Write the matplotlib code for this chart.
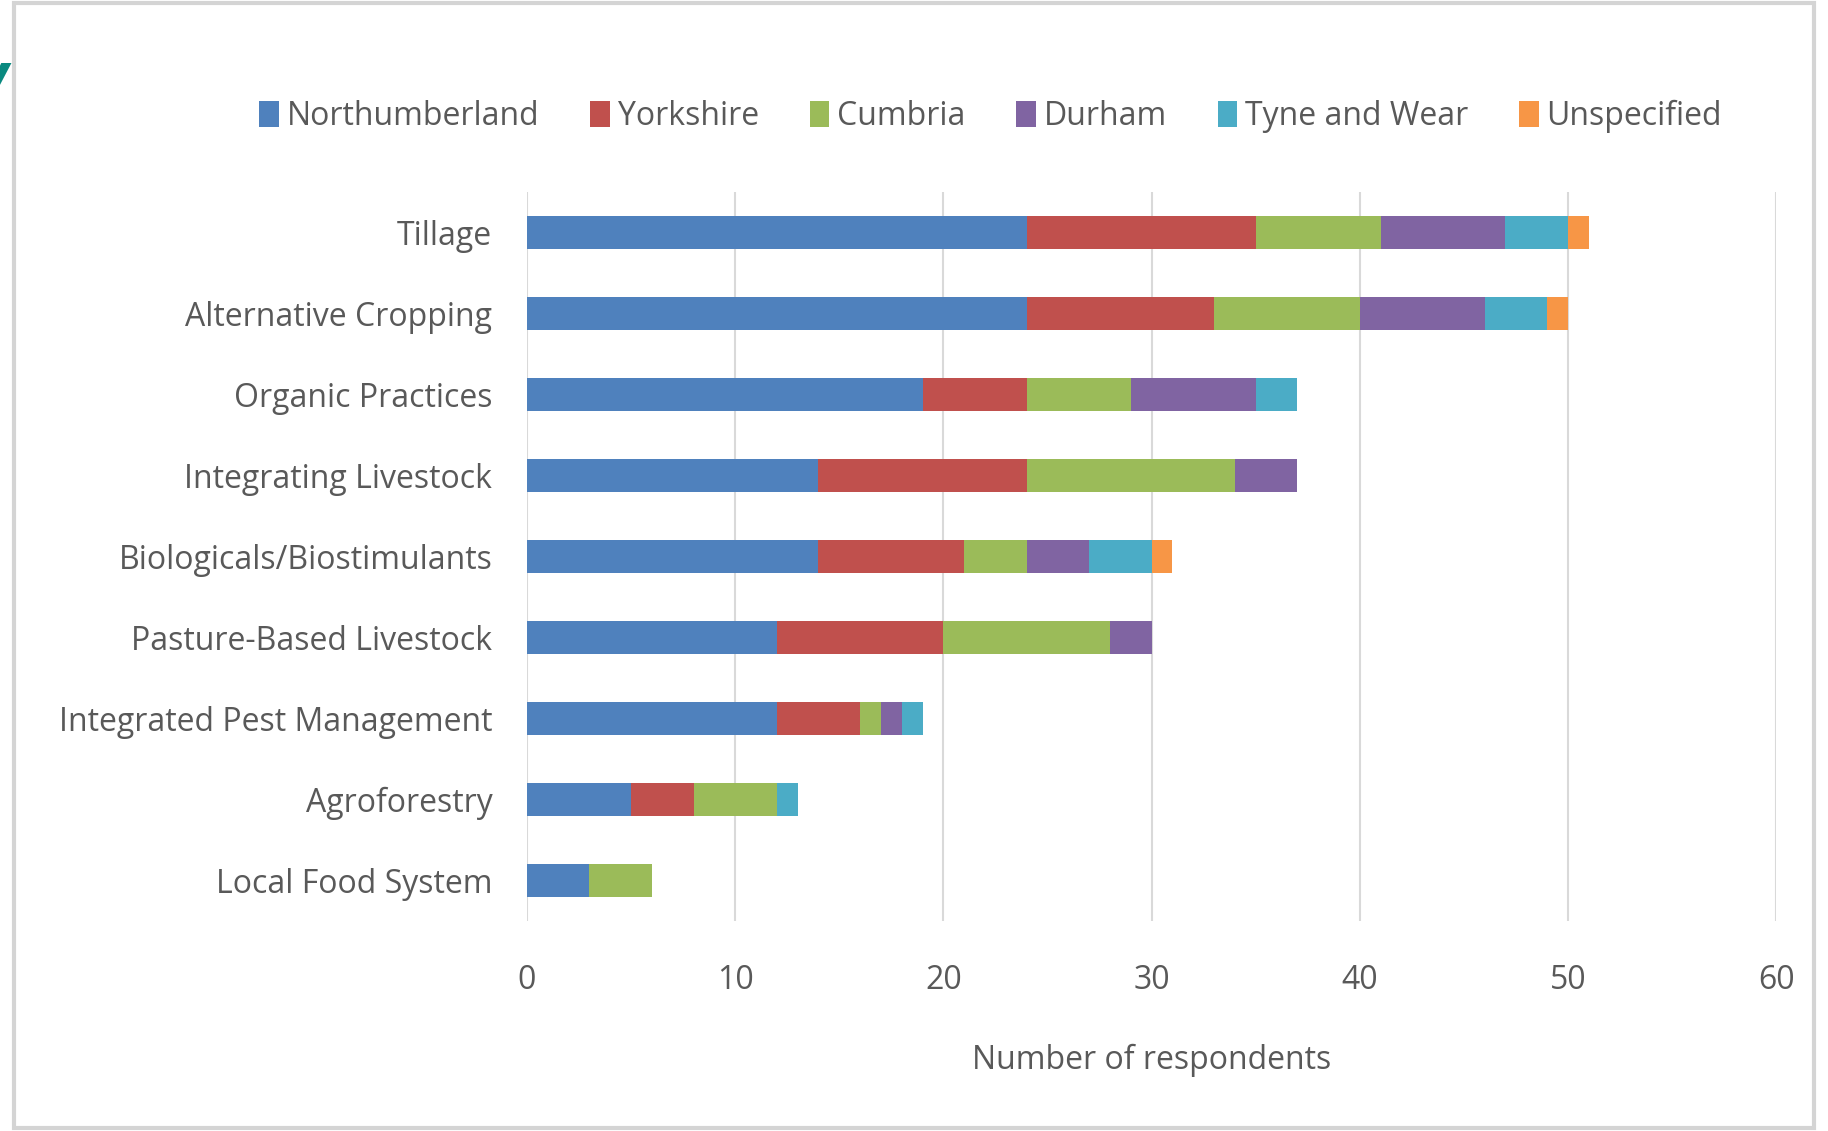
import matplotlib
matplotlib.use("Agg")
import matplotlib.pyplot as plt
from matplotlib.patches import Rectangle
import numpy as np

plt.rcParams['font.family'] = ['Open Sans', 'DejaVu Sans']

practices = ['Tillage', 'Alternative Cropping', 'Organic Practices', 'Integrating Livestock',
             'Biologicals/Biostimulants', 'Pasture-Based Livestock', 'Integrated Pest Management',
             'Agroforestry', 'Local Food System']
regions = ['Northumberland', 'Yorkshire', 'Cumbria', 'Durham', 'Tyne and Wear', 'Unspecified']

northumberland = [24, 24, 19, 14, 14, 12, 12, 5, 3]
yorkshire = [11, 9, 5, 10, 7, 8, 4, 3, 0]
cumbria = [6, 7, 5, 10, 3, 8, 1, 4, 3]
durham = [6, 6, 6, 3, 3, 2, 1, 0, 0]
tyne_and_wear = [3, 3, 2, 0, 3, 0, 1, 1, 0]
unspecified = [1, 1, 0, 0, 1, 0, 0, 0, 0]

colors = ['#4F81BD', '#C0504D', '#9BBB59', '#8064A2', '#4BACC6', '#F79646']
text_color = '#595959'

fig = plt.figure(figsize=(18.28, 11.31), dpi=100)
ax = fig.add_axes([0.2883, 0.1857, 0.6833, 0.6443])

y = np.arange(len(practices))
left = np.zeros(len(practices))
for name, vals, col in zip(regions, [northumberland, yorkshire, cumbria, durham, tyne_and_wear, unspecified], colors):
    ax.barh(y, vals, left=left, height=0.41, color=col, label=name, zorder=3)
    left += np.array(vals)

ax.set_ylim(len(practices) - 0.5, -0.5)
ax.set_xlim(0, 60)
ax.set_xticks(np.arange(0, 61, 10))
ax.set_yticks(y)
ax.set_yticklabels(practices)
ax.tick_params(axis='both', length=0, labelsize=23, labelcolor=text_color)
ax.tick_params(axis='x', pad=31)
ax.tick_params(axis='y', pad=25)
ax.grid(axis='x', color='#d9d9d9', linewidth=1.5, zorder=0)
for s in ax.spines.values():
    s.set_visible(False)
ax.set_xlabel('Number of respondents', fontsize=23, color=text_color, labelpad=34)

fig.legend(loc='center', bbox_to_anchor=(0.542, 0.897), ncol=6, frameon=False,
           fontsize=23, labelcolor=text_color, handlelength=0.6, handleheight=0.9,
           handletextpad=0.25, columnspacing=1.6)

# outer frame and the clipped heading letter at the top-left edge
fig.patches.append(Rectangle((0.0075, 0.003), 0.985, 0.994, transform=fig.transFigure,
                             fill=False, edgecolor='#d4d4d4', linewidth=3))
fig.text(-0.014, 0.928, 'y', fontsize=46, fontweight='bold', fontstyle='italic',
         color='#0a8a80', va='center')

fig.savefig('out.png', dpi=100, facecolor='white')
